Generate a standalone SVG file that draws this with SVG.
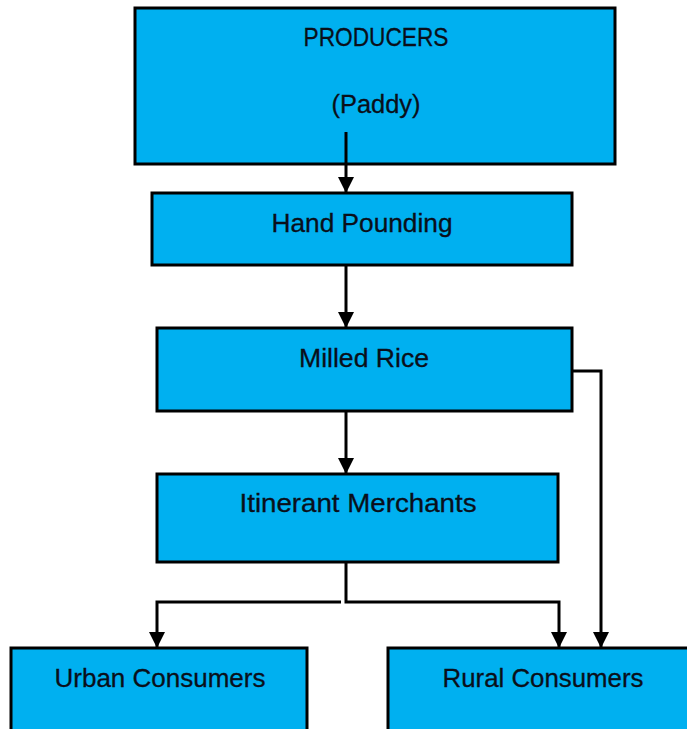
<svg xmlns="http://www.w3.org/2000/svg" width="687" height="729" viewBox="0 0 687 729">
<style>
.box{fill:#00B0F0;stroke:#000;stroke-width:3}
.lbl{font-family:"Liberation Sans",Arial,sans-serif;font-size:25.5px;fill:#0a0f1a;stroke:#0a0f1a;stroke-width:0.3;text-anchor:middle}
.con{fill:none;stroke:#000;stroke-width:3}
</style>
<defs>
<marker id="ah" markerUnits="userSpaceOnUse" markerWidth="16" markerHeight="16" viewBox="0 0 16 16" refX="16" refY="8" orient="auto">
<path d="M0,0 L16,8 L0,16 Z" fill="#000"/>
</marker>
</defs>
<rect width="687" height="729" fill="#fff"/>
<g id="producers"><rect class="box" x="135" y="8" width="480" height="156"/>
<text class="lbl" x="376" y="46" textLength="145" lengthAdjust="spacingAndGlyphs">PRODUCERS</text>
<text class="lbl" x="376" y="113" textLength="89" lengthAdjust="spacingAndGlyphs">(Paddy)</text></g>
<g id="hand"><rect class="box" x="152" y="193" width="420" height="72"/>
<text class="lbl" x="362" y="232" textLength="181" lengthAdjust="spacingAndGlyphs">Hand Pounding</text></g>
<g id="milled"><rect class="box" x="157" y="328" width="415" height="83"/>
<text class="lbl" x="364" y="367" textLength="130" lengthAdjust="spacingAndGlyphs">Milled Rice</text></g>
<g id="itinerant"><rect class="box" x="157" y="474" width="401" height="88"/>
<text class="lbl" x="358" y="512" textLength="237" lengthAdjust="spacingAndGlyphs">Itinerant Merchants</text></g>
<g id="urban"><rect class="box" x="11" y="648" width="296" height="90"/>
<text class="lbl" x="160" y="687" textLength="211" lengthAdjust="spacingAndGlyphs">Urban Consumers</text></g>
<g id="rural"><rect class="box" x="388" y="648" width="310" height="90"/>
<text class="lbl" x="543" y="687" textLength="201" lengthAdjust="spacingAndGlyphs">Rural Consumers</text></g>
<g id="connectors">
<path class="con" d="M346,132 V193" marker-end="url(#ah)"/>
<path class="con" d="M346,265 V328" marker-end="url(#ah)"/>
<path class="con" d="M346,411 V474" marker-end="url(#ah)"/>
<path class="con" d="M572,371 H601 V648" marker-end="url(#ah)"/>
<path class="con" d="M346,562 V602 H559 V648" marker-end="url(#ah)"/>
<path class="con" d="M341,602 H157 V648" marker-end="url(#ah)"/>
</g>
</svg>
